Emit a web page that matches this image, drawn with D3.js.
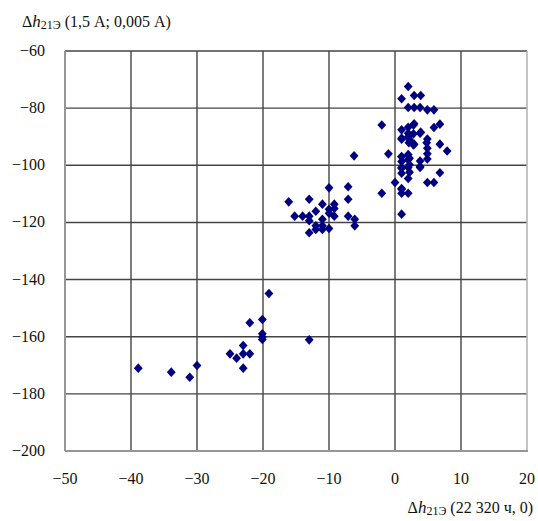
<!DOCTYPE html>
<html lang="ru">
<head>
    <meta charset="UTF-8">
    <title>Δh21Э scatter</title>
    <script src="https://d3js.org/d3.v7.min.js"></script>
    <style>
        body {
            margin: 0;
            padding: 0;
            background-color: white;
        }
        svg {
            display: block;
            font-family: 'Liberation Serif', 'Times New Roman', serif;
        }
        .tick-label {
            font-size: 16px;
            fill: #111;
        }
        .axis-title {
            font-size: 16px;
            fill: #111;
        }
    </style>
</head>
<body>
    <svg width="538" height="521"></svg>

    <script>
        const xTicks = [-50, -40, -30, -20, -10, 0, 10, 20];
        const yTicks = [-200, -180, -160, -140, -120, -100, -80, -60];

        // lower group, around -20..-40
        const lowCluster = [
            [-19.1, -144.9], [-22.0, -155.1], [-20.1, -154.0], [-20.1, -159.0],
            [-20.1, -160.1], [-20.1, -161.0], [-23.0, -163.1], [-25.0, -166.0],
            [-24.0, -167.5], [-23.0, -166.0], [-22.0, -166.0], [-23.0, -171.0],
            [-30.0, -170.1], [-31.1, -174.2], [-33.9, -172.4], [-38.9, -171.0],
            [-13.0, -161.1]
        ];

        // middle group, around -10
        const midCluster = [
            [-10.0, -107.9], [-7.1, -107.5], [-7.1, -111.9], [-16.1, -112.8],
            [-13.0, -111.9], [-11.0, -113.6], [-9.2, -113.6], [-12.0, -116.1],
            [-10.0, -115.4], [-9.2, -115.1], [-10.0, -116.8], [-15.2, -117.8],
            [-14.0, -117.8], [-13.0, -117.8], [-13.0, -119.4], [-11.0, -118.9],
            [-9.2, -117.8], [-7.1, -117.8], [-6.1, -118.9], [-6.1, -121.2],
            [-12.0, -121.2], [-11.0, -121.2], [-12.0, -122.5], [-11.0, -122.5],
            [-10.0, -122.1], [-13.0, -123.6], [-6.2, -96.7]
        ];

        // upper group, around 0..8
        const highCluster = [
            [2.0, -72.4], [1.0, -76.7], [2.9, -75.6], [3.9, -75.6],
            [2.0, -79.8], [2.9, -79.8], [3.8, -79.8], [4.9, -80.6],
            [5.9, -80.6], [-2.0, -85.9], [1.0, -87.6], [2.0, -86.7],
            [2.9, -85.5], [3.9, -88.4], [5.9, -86.8], [6.8, -85.6],
            [1.0, -90.9], [2.0, -90.0], [2.8, -89.0], [2.1, -92.1],
            [2.9, -92.6], [4.9, -90.8], [6.8, -92.6], [7.9, -95.0],
            [-1.0, -96.0], [4.9, -94.0], [4.9, -96.0], [4.9, -97.8],
            [1.0, -97.0], [2.0, -96.2], [2.0, -98.1], [1.0, -98.7],
            [3.8, -98.5], [3.8, -100.8], [1.0, -100.8], [2.0, -100.8],
            [1.0, -102.8], [6.8, -102.6], [2.0, -104.6], [0.0, -106.0],
            [4.9, -106.0], [5.9, -106.0], [1.0, -108.4], [-2.0, -109.8],
            [1.0, -109.8], [2.0, -109.8], [1.0, -117.1],
            [2.8, -85.9], [2.0, -88.8], [3.8, -88.8], [1.0, -90.5],
            [2.2, -91.1], [2.8, -92.9], [4.8, -92.1], [1.0, -96.9],
            [2.2, -97.5], [2.2, -99.8], [1.0, -101.0], [2.2, -102.4],
            [3.8, -100.4], [1.0, -108.1]
        ];

        const svg = d3.select("svg");

        const xScale = d3.scaleLinear()
                         .domain([-50, 20])
                         .range([65, 527]);

        const yScale = d3.scaleLinear()
                         .domain([-200, -60])
                         .range([451, 51]);

        // grid
        svg.selectAll(".vgrid")
           .data(xTicks.slice(1, -1))
           .enter()
           .append("line")
           .attr("x1", d => xScale(d))
           .attr("x2", d => xScale(d))
           .attr("y1", yScale(-60))
           .attr("y2", yScale(-200))
           .attr("stroke", "#444")
           .attr("stroke-width", 1.4);

        svg.selectAll(".hgrid")
           .data(yTicks.slice(1))
           .enter()
           .append("line")
           .attr("x1", xScale(-50))
           .attr("x2", xScale(20))
           .attr("y1", d => yScale(d))
           .attr("y2", d => yScale(d))
           .attr("stroke", "#444")
           .attr("stroke-width", 1.4);

        // axes and right border
        svg.append("line")
           .attr("x1", xScale(20)).attr("x2", xScale(20))
           .attr("y1", yScale(-60)).attr("y2", yScale(-200))
           .attr("stroke", "#b0b0b0").attr("stroke-width", 1.5);

        svg.append("line")
           .attr("x1", xScale(-50)).attr("x2", xScale(-50))
           .attr("y1", yScale(-60)).attr("y2", yScale(-200))
           .attr("stroke", "#969696").attr("stroke-width", 2);

        svg.append("line")
           .attr("x1", xScale(-50)).attr("x2", xScale(20) + 1)
           .attr("y1", yScale(-200)).attr("y2", yScale(-200))
           .attr("stroke", "#969696").attr("stroke-width", 2);

        // tick labels
        svg.selectAll(".ylab")
           .data(yTicks)
           .enter()
           .append("text")
           .attr("class", "tick-label")
           .attr("x", 45)
           .attr("y", d => yScale(d) + 5)
           .attr("text-anchor", "end")
           .text(d => d3.format("")(d).replace("-", "\u2212"));

        svg.selectAll(".xlab")
           .data(xTicks)
           .enter()
           .append("text")
           .attr("class", "tick-label")
           .attr("x", d => xScale(d))
           .attr("y", 484)
           .attr("text-anchor", "middle")
           .text(d => d3.format("")(d).replace("-", "\u2212"));

        // axis titles
        function title(x, y, anchor, rest) {
            const t = svg.append("text")
                .attr("class", "axis-title")
                .attr("x", x)
                .attr("y", y)
                .attr("text-anchor", anchor);
            t.append("tspan").text("\u0394");
            t.append("tspan").style("font-style", "italic").style("font-size", "17px").text("h");
            t.append("tspan").attr("dy", 2).style("font-size", "12px").text("21Э");
            t.append("tspan").attr("dy", -2).text(" " + rest);
        }
        title(22, 27, "start", "(1,5 А; 0,005 А)");
        title(533, 513, "end", "(22 320 ч, 0)");

        // points
        const diamond = "M0,-4.8L4.4,0L0,4.8L-4.4,0Z";
        const allPoints = lowCluster.concat(midCluster, highCluster);

        svg.selectAll(".pt")
           .data(allPoints)
           .enter()
           .append("path")
           .attr("class", "pt")
           .attr("d", diamond)
           .attr("transform", d => "translate(" + xScale(d[0]) + "," + yScale(d[1]) + ")")
           .attr("fill", "#000080");
    </script>
</body>
</html>
